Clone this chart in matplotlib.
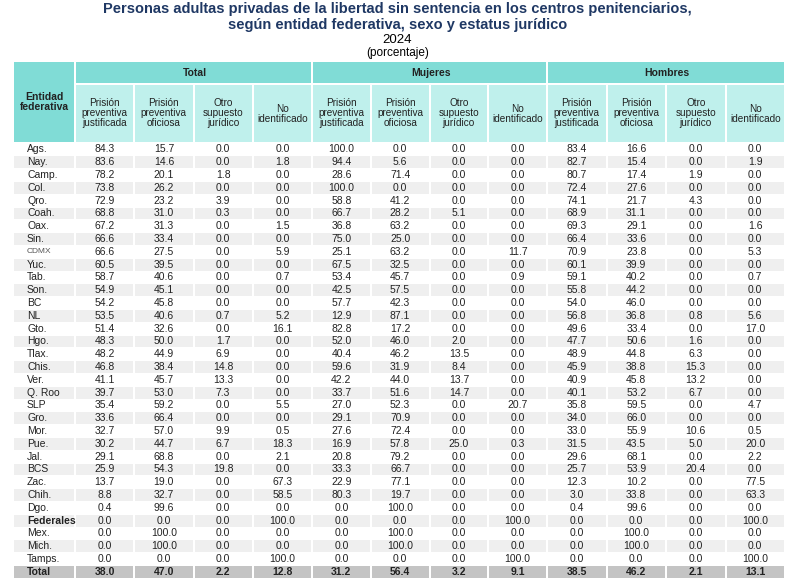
import matplotlib.pyplot as plt
from matplotlib.patches import Rectangle

plt.rcParams['font.family'] = 'Liberation Sans'

# datos del cuadro
entidades = ['Ags.', 'Nay.', 'Camp.', 'Col.', 'Qro.', 'Coah.', 'Oax.', 'Sin.', 'CDMX', 'Yuc.',
             'Tab.', 'Son.', 'BC', 'NL', 'Gto.', 'Hgo.', 'Tlax.', 'Chis.', 'Ver.', 'Q. Roo',
             'SLP', 'Gro.', 'Mor.', 'Pue.', 'Jal.', 'BCS', 'Zac.', 'Chih.', 'Dgo.', 'Federales',
             'Mex.', 'Mich.', 'Tamps.', 'Total']

total_just = [84.3, 83.6, 78.2, 73.8, 72.9, 68.8, 67.2, 66.6, 66.6, 60.5, 58.7, 54.9, 54.2, 53.5, 51.4, 48.3, 48.2,
              46.8, 41.1, 39.7, 35.4, 33.6, 32.7, 30.2, 29.1, 25.9, 13.7, 8.8, 0.4, 0.0, 0.0, 0.0, 0.0, 38.0]
total_ofic = [15.7, 14.6, 20.1, 26.2, 23.2, 31.0, 31.3, 33.4, 27.5, 39.5, 40.6, 45.1, 45.8, 40.6, 32.6, 50.0, 44.9,
              38.4, 45.7, 53.0, 59.2, 66.4, 57.0, 44.7, 68.8, 54.3, 19.0, 32.7, 99.6, 0.0, 100.0, 100.0, 0.0, 47.0]
total_otro = [0.0, 0.0, 1.8, 0.0, 3.9, 0.3, 0.0, 0.0, 0.0, 0.0, 0.0, 0.0, 0.0, 0.7, 0.0, 1.7, 6.9,
              14.8, 13.3, 7.3, 0.0, 0.0, 9.9, 6.7, 0.0, 19.8, 0.0, 0.0, 0.0, 0.0, 0.0, 0.0, 0.0, 2.2]
total_noid = [0.0, 1.8, 0.0, 0.0, 0.0, 0.0, 1.5, 0.0, 5.9, 0.0, 0.7, 0.0, 0.0, 5.2, 16.1, 0.0, 0.0,
              0.0, 0.0, 0.0, 5.5, 0.0, 0.5, 18.3, 2.1, 0.0, 67.3, 58.5, 0.0, 100.0, 0.0, 0.0, 100.0, 12.8]

muj_just = [100.0, 94.4, 28.6, 100.0, 58.8, 66.7, 36.8, 75.0, 25.1, 67.5, 53.4, 42.5, 57.7, 12.9, 82.8, 52.0, 40.4,
            59.6, 42.2, 33.7, 27.0, 29.1, 27.6, 16.9, 20.8, 33.3, 22.9, 80.3, 0.0, 0.0, 0.0, 0.0, 0.0, 31.2]
muj_ofic = [0.0, 5.6, 71.4, 0.0, 41.2, 28.2, 63.2, 25.0, 63.2, 32.5, 45.7, 57.5, 42.3, 87.1, 17.2, 46.0, 46.2,
            31.9, 44.0, 51.6, 52.3, 70.9, 72.4, 57.8, 79.2, 66.7, 77.1, 19.7, 100.0, 0.0, 100.0, 100.0, 0.0, 56.4]
muj_otro = [0.0, 0.0, 0.0, 0.0, 0.0, 5.1, 0.0, 0.0, 0.0, 0.0, 0.0, 0.0, 0.0, 0.0, 0.0, 2.0, 13.5,
            8.4, 13.7, 14.7, 0.0, 0.0, 0.0, 25.0, 0.0, 0.0, 0.0, 0.0, 0.0, 0.0, 0.0, 0.0, 0.0, 3.2]
muj_noid = [0.0, 0.0, 0.0, 0.0, 0.0, 0.0, 0.0, 0.0, 11.7, 0.0, 0.9, 0.0, 0.0, 0.0, 0.0, 0.0, 0.0,
            0.0, 0.0, 0.0, 20.7, 0.0, 0.0, 0.3, 0.0, 0.0, 0.0, 0.0, 0.0, 100.0, 0.0, 0.0, 100.0, 9.1]

hom_just = [83.4, 82.7, 80.7, 72.4, 74.1, 68.9, 69.3, 66.4, 70.9, 60.1, 59.1, 55.8, 54.0, 56.8, 49.6, 47.7, 48.9,
            45.9, 40.9, 40.1, 35.8, 34.0, 33.0, 31.5, 29.6, 25.7, 12.3, 3.0, 0.4, 0.0, 0.0, 0.0, 0.0, 38.5]
hom_ofic = [16.6, 15.4, 17.4, 27.6, 21.7, 31.1, 29.1, 33.6, 23.8, 39.9, 40.2, 44.2, 46.0, 36.8, 33.4, 50.6, 44.8,
            38.8, 45.8, 53.2, 59.5, 66.0, 55.9, 43.5, 68.1, 53.9, 10.2, 33.8, 99.6, 0.0, 100.0, 100.0, 0.0, 46.2]
hom_otro = [0.0, 0.0, 1.9, 0.0, 4.3, 0.0, 0.0, 0.0, 0.0, 0.0, 0.0, 0.0, 0.0, 0.8, 0.0, 1.6, 6.3,
            15.3, 13.2, 6.7, 0.0, 0.0, 10.6, 5.0, 0.0, 20.4, 0.0, 0.0, 0.0, 0.0, 0.0, 0.0, 0.0, 2.1]
hom_noid = [0.0, 1.9, 0.0, 0.0, 0.0, 0.0, 1.6, 0.0, 5.3, 0.0, 0.7, 0.0, 0.0, 5.6, 17.0, 0.0, 0.0,
            0.0, 0.0, 0.0, 4.7, 0.0, 0.5, 20.0, 2.2, 0.0, 77.5, 63.3, 0.0, 100.0, 0.0, 0.0, 100.0, 13.1]

grupos = ['Total', 'Mujeres', 'Hombres']
subcols = ['Prisión\npreventiva\njustificada', 'Prisión\npreventiva\noficiosa',
           'Otro\nsupuesto\njurídico', 'No\nidentificado']
columnas = [total_just, total_ofic, total_otro, total_noid,
            muj_just, muj_ofic, muj_otro, muj_noid,
            hom_just, hom_ofic, hom_otro, hom_noid]

W, H = 795, 580
fig = plt.figure(figsize=(W / 100, H / 100), dpi=100)
ax = fig.add_axes([0, 0, 1, 1])
ax.set_xlim(0, W)
ax.set_ylim(H, 0)
ax.axis('off')

navy = '#1f3864'
teal1 = '#80dcd6'
teal2 = '#bff0ec'
ax.text(W / 2, 9, 'Personas adultas privadas de la libertad sin sentencia en los centros penitenciarios,',
        ha='center', va='center', fontsize=10.5, fontweight='bold', color=navy)
ax.text(W / 2, 25, 'según entidad federativa, sexo y estatus jurídico',
        ha='center', va='center', fontsize=10.5, fontweight='bold', color=navy)
ax.text(W / 2, 40, '2024', ha='center', va='center', fontsize=9.5)
ax.text(W / 2, 53, '(porcentaje)', ha='center', va='center', fontsize=8.5)

gap = 2
x0_ent, x1_ent = 14, 76
group_x = [(76, 313), (313, 548), (548, 786)]
h1_top, h1_bot, h2_bot = 62, 85, 142
row_top, row_h = 143, 12.8

# encabezados
ax.add_patch(Rectangle((x0_ent, h1_top), x1_ent - x0_ent - gap, h2_bot - h1_top, color=teal1, lw=0))
ax.text((x0_ent + x1_ent - gap) / 2, (h1_top + h2_bot) / 2, 'Entidad\nfederativa', ha='center', va='center',
        fontsize=7.5, fontweight='bold', color='#222222', linespacing=1.0)
col_x = []
for g, (gx0, gx1) in zip(grupos, group_x):
    ax.add_patch(Rectangle((gx0, h1_top), gx1 - gx0 - gap, h1_bot - h1_top - gap, color=teal1, lw=0))
    ax.text((gx0 + gx1) / 2, (h1_top + h1_bot) / 2, g, ha='center', va='center',
            fontsize=7.5, fontweight='bold', color='#222222')
    sw = (gx1 - gx0) / 4
    for k, s in enumerate(subcols):
        sx = gx0 + k * sw
        col_x.append((sx, sx + sw))
        ax.add_patch(Rectangle((sx, h1_bot), sw - gap, h2_bot - h1_bot, color=teal2, lw=0))
        ax.text(sx + (sw - gap) / 2, (h1_bot + h2_bot) / 2, s, ha='center', va='center',
                fontsize=7.2, color='#222222', linespacing=1.0)

# filas
for i, ent in enumerate(entidades):
    y = row_top + i * row_h
    es_total = ent == 'Total'
    if es_total:
        fc = '#c4c4c4'
    elif i % 2 == 1:
        fc = '#efefef'
    else:
        fc = 'white'
    if fc != 'white':
        ax.add_patch(Rectangle((x0_ent, y + 0.5), x1_ent - x0_ent - gap, row_h - 1, color=fc, lw=0))
        for sx0, sx1 in col_x:
            ax.add_patch(Rectangle((sx0, y + 0.5), sx1 - sx0 - gap, row_h - 1, color=fc, lw=0))
    bold = es_total or ent == 'Federales'
    fs = 6.0 if ent == 'CDMX' else 7.5
    ax.text(27, y + row_h / 2, ent, ha='left', va='center', fontsize=fs,
            fontweight='bold' if bold else 'normal', color='#555555' if ent == 'CDMX' else '#222222')
    for (sx0, sx1), col in zip(col_x, columnas):
        ax.text((sx0 + sx1 - gap) / 2, y + row_h / 2, f'{col[i]:.1f}', ha='center', va='center',
                fontsize=7.5, fontweight='bold' if es_total else 'normal', color='#222222')

fig.savefig('out.png', dpi=100)
